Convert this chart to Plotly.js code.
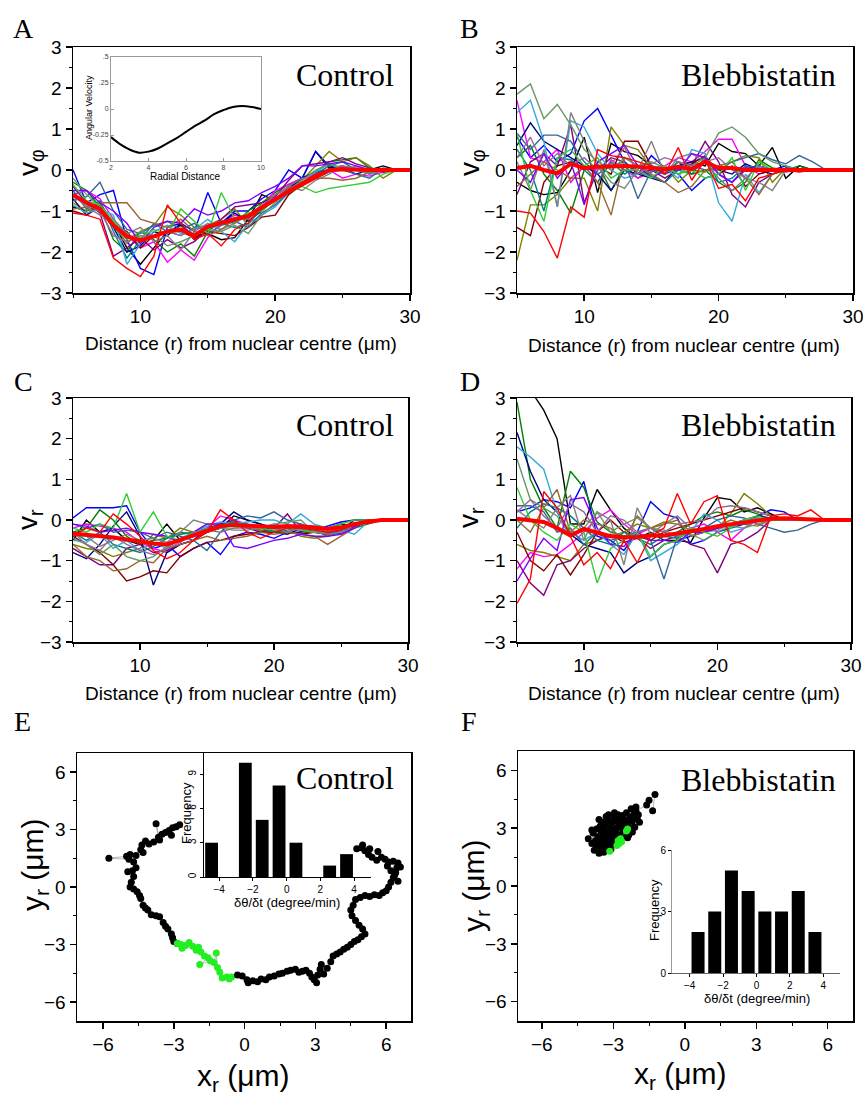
<!DOCTYPE html>
<html><head><meta charset="utf-8">
<script src="https://cdn.plot.ly/plotly-3.0.1.min.js"></script>
<style>body{margin:0;background:#fff}#chart{width:863px;height:1096px}</style>
</head><body><div id="chart"></div>
<script>
// ---------------- DATA ----------------
const radius = [5,6,7,8,9,10,11,12,13,14,15,16,17,18,19,20,21,22,23,24,25,26,27,28,29,30];
const radiusTicks = [10,20,30];
const lineColors = ['#000000','#0000ff','#008000','#ff00ff','#808000','#000080','#800080','#800000','#008080','#33aadd','#336699','#808080','#996633','#669966','#8000ff','#33cc33','#996699','#ff0000'];

// Panel A: v_phi, control
const vphiControl = [
[-0.9,-1.0,-0.85,-1.3,-1.9,-2.3,-1.9,-1.5,-1.35,-1.6,-1.55,-1.7,-1.65,-1.2,-0.6,-0.75,-0.4,-0.2,0.45,0.05,0.1,0.0,0.0,0.1,0.0,0.0],
[0.0,-0.8,-0.6,-0.5,-1.7,-2.4,-2.55,-1.4,-1.3,-1.5,-0.55,-1.3,-1.0,-1.0,-0.7,-0.5,0.0,-0.2,0.45,0.1,0.05,0.0,-0.1,0.0,0.0,0.0],
[-0.3,-0.5,-0.9,-1.7,-2.0,-1.5,-1.7,-2.0,-1.8,-2.1,-1.5,-1.25,-1.3,-1.0,-0.8,-0.55,-0.35,-0.2,-0.05,0.2,0.25,0.3,0.05,-0.05,0.0,0.0],
[-0.6,-0.5,-0.7,-1.2,-1.6,-1.9,-1.75,-2.25,-1.95,-2.2,-1.65,-1.3,-1.1,-1.2,-0.9,-0.5,-0.35,-0.2,-0.1,0.0,-0.2,-0.1,-0.15,-0.05,0.0,0.0],
[-0.8,-1.0,-0.8,-1.3,-1.8,-1.5,-1.35,-0.9,-1.1,-1.4,-1.35,-1.2,-0.95,-1.35,-0.8,-0.6,-0.45,-0.25,0.1,0.45,0.2,0.3,0.1,-0.2,0.0,0.0],
[-0.7,-1.1,-0.9,-1.4,-2.0,-1.85,-1.5,-1.6,-1.3,-1.7,-1.4,-1.3,-1.05,-1.25,-1.0,-0.7,-0.45,-0.2,-0.05,0.0,0.05,-0.1,0.0,0.0,0.0,0.0],
[-0.4,-0.8,-1.05,-2.1,-1.9,-1.65,-1.95,-1.7,-1.9,-1.75,-1.45,-1.2,-0.9,-0.85,-0.8,-0.65,-0.25,0.1,0.15,0.2,0.3,0.15,0.05,-0.05,0.0,0.0],
[-1.0,-1.1,-0.8,-1.35,-1.5,-1.9,-1.6,-1.5,-1.5,-1.65,-1.5,-1.55,-1.6,-1.4,-1.15,-1.1,-0.6,-0.35,-0.15,0.0,0.05,0.0,-0.05,0.0,0.0,0.0],
[-0.5,-0.95,-0.75,-1.5,-2.15,-1.7,-1.3,-1.5,-1.6,-1.4,-1.45,-1.3,-1.4,-1.3,-0.95,-0.75,-0.5,-0.3,-0.1,0.1,0.2,0.0,0.05,0.0,0.0,0.0],
[-0.85,-1.05,-0.95,-1.1,-2.3,-1.8,-1.5,-1.35,-1.55,-1.45,-1.2,-1.5,-1.75,-1.3,-1.1,-0.9,-0.55,-0.25,-0.05,0.15,0.0,0.1,0.0,0.0,0.0,0.0],
[-0.75,-0.65,-0.3,-1.0,-1.45,-1.55,-1.35,-1.25,-1.45,-1.3,-1.55,-1.35,-1.25,-1.4,-1.05,-0.85,-0.55,-0.35,-0.2,-0.05,0.0,-0.1,-0.2,0.05,0.0,0.0],
[-0.6,-0.9,-1.1,-1.2,-1.55,-1.4,-1.75,-1.6,-1.95,-1.5,-1.3,-1.45,-1.3,-1.1,-0.85,-0.7,-0.4,-0.5,-0.25,-0.1,0.1,0.05,0.0,0.0,0.0,0.0],
[-0.95,-0.9,-0.8,-0.8,-0.8,-1.2,-1.3,-1.4,-1.2,-1.5,-1.6,-1.45,-1.2,-1.2,-0.95,-0.75,-0.45,-0.3,-0.2,-0.2,-0.25,-0.2,-0.05,0.0,0.0,0.0],
[-0.2,-0.6,-0.9,-1.4,-1.7,-1.5,-1.6,-1.85,-1.75,-1.6,-1.45,-1.5,-1.35,-1.55,-1.1,-0.8,-0.5,-0.25,0.0,0.15,0.05,0.0,-0.1,0.0,0.0,0.0],
[-0.5,-0.5,-0.8,-1.0,-1.3,-1.8,-1.4,-1.25,-1.3,-0.95,-1.1,-1.0,-0.8,-0.75,-0.55,-0.4,-0.2,0.1,0.1,0.15,0.2,0.1,0.0,0.0,0.0,0.0],
[-0.35,-0.75,-0.85,-1.25,-1.6,-1.65,-1.45,-1.55,-0.95,-1.25,-1.55,-0.55,-1.2,-1.05,-1.0,-0.7,-0.55,-0.4,-0.55,-0.45,-0.4,-0.35,-0.3,-0.1,0.0,0.0],
[-0.65,-0.85,-1.0,-1.6,-1.75,-1.6,-1.65,-1.5,-1.6,-1.45,-1.35,-1.25,-1.2,-1.15,-0.9,-0.6,-0.4,-0.2,-0.15,-0.05,0.1,0.0,-0.05,0.0,0.0,0.0],
[-1.05,-1.1,-1.2,-2.15,-2.4,-2.6,-2.1,-0.85,-1.3,-1.7,-1.55,-1.85,-1.45,-1.3,-0.9,-0.7,-0.5,-0.3,-0.1,0.0,0.05,0.0,0.0,0.0,0.0,0.0]
];
const vphiControlMean = [-0.6,-0.8,-0.95,-1.35,-1.62,-1.72,-1.62,-1.5,-1.45,-1.6,-1.38,-1.28,-1.2,-1.12,-0.92,-0.72,-0.52,-0.35,-0.18,0.0,0.02,0.0,0.0,0.0,0.0,0.0];

// Panel B: v_phi, blebbistatin
const vphiBlebb = [
[-0.3,-0.5,-0.6,-0.55,0.0,0.8,-0.55,0.65,0.45,0.35,0.1,0.0,0.1,0.2,0.1,0.65,0.45,0.4,0.1,0.55,-0.2,0.1,0.0,0.0,0.0,0.0],
[0.8,0.3,0.6,0.2,0.4,1.2,1.5,0.85,0.2,-0.1,0.35,0.05,-0.1,-0.5,-0.2,-0.1,-0.3,0.05,0.1,0.0,0.1,0.0,0.0,0.0,0.0,0.0],
[0.3,0.6,-0.1,-0.5,-1.05,0.0,0.15,-0.5,0.1,-0.2,0.05,-0.1,0.2,-0.1,0.0,-0.3,-0.5,-0.3,0.25,0.05,0.0,0.1,0.0,0.0,0.0,0.0],
[1.7,0.3,0.2,0.5,-0.3,0.1,-0.3,0.25,0.0,-0.2,-0.05,0.1,0.3,0.2,0.45,0.75,0.75,0.1,-0.1,0.0,-0.05,0.0,0.0,0.0,0.0,0.0],
[-2.2,-0.85,-0.85,-0.6,-0.2,-0.2,-1.0,1.05,0.6,0.5,0.05,0.1,-0.3,0.0,-0.05,0.1,0.2,0.35,0.3,-0.3,0.05,0.0,0.0,0.0,0.0,0.0],
[0.6,1.15,0.7,0.5,0.3,0.1,-0.1,-0.5,0.0,-0.1,-0.2,-0.3,0.1,0.2,0.3,0.0,-0.1,0.15,0.0,-0.1,0.05,0.0,0.0,0.0,0.0,0.0],
[-0.6,0.2,0.4,0.1,1.1,-0.8,0.0,0.3,0.2,-0.1,0.0,-0.2,0.0,0.1,0.7,0.2,-0.6,-0.9,-0.3,-0.1,0.0,0.0,0.0,0.0,0.0,0.0],
[-1.4,-1.6,-0.3,0.1,0.2,0.0,0.1,-0.1,0.7,0.7,0.1,-0.1,0.05,0.15,0.35,-0.1,0.1,-0.4,-0.1,0.0,0.0,0.0,0.0,0.0,0.0,0.0],
[0.5,0.0,-1.0,0.3,0.25,0.0,-0.3,0.2,-0.1,0.1,-0.15,-0.3,0.0,-0.1,0.3,-0.3,-0.2,0.1,0.05,0.0,0.0,0.0,0.0,0.0,0.0,0.0],
[1.4,1.7,0.7,-0.9,1.2,1.05,0.4,0.0,-0.2,-0.1,0.1,0.05,-0.2,0.5,0.4,-0.8,-1.25,-0.1,-0.55,-0.1,0.0,0.0,0.0,0.0,0.0,0.0],
[0.9,0.5,0.85,0.85,0.7,0.2,-0.1,0.1,0.2,-0.7,0.0,-0.1,0.2,0.1,0.0,0.0,0.2,0.3,0.4,0.25,0.15,0.35,0.2,0.0,0.0,0.0],
[0.2,-0.5,0.5,-0.9,1.4,0.7,0.1,-0.3,-0.45,0.0,0.7,-0.1,0.3,0.4,0.2,-0.2,-0.5,-0.2,-0.3,-0.5,0.0,0.0,0.0,0.0,0.0,0.0],
[-0.4,-0.1,0.2,0.0,-0.2,0.1,-0.3,-1.1,0.3,0.1,-0.1,-0.3,-0.55,-0.4,0.0,0.1,0.2,-0.2,-0.6,-0.1,0.0,0.0,0.0,0.0,0.0,0.0],
[1.85,2.1,1.25,1.6,1.1,0.5,0.2,0.0,0.3,0.1,0.2,0.05,-0.1,0.1,0.3,0.9,1.05,0.8,0.4,0.2,0.1,0.0,0.0,0.0,0.0,0.0],
[0.0,-0.3,0.4,-0.2,0.2,-0.85,0.2,0.4,0.6,0.1,-0.2,0.0,0.0,0.4,0.3,-0.1,-0.3,0.0,0.1,0.0,0.0,0.0,0.0,0.0,0.0,0.0],
[0.9,-0.5,-1.25,0.3,0.5,0.1,0.3,-0.2,0.0,0.0,-0.2,0.1,-0.1,0.0,-0.2,-0.1,0.3,-0.5,0.2,0.0,0.0,0.0,0.0,0.0,0.0,0.0],
[0.3,0.8,0.1,0.4,0.1,0.3,0.0,0.15,0.55,-0.1,0.15,0.3,0.2,0.1,0.2,0.3,0.0,-0.2,0.1,0.0,0.0,0.0,0.0,0.0,0.0,0.0],
[-1.0,-1.05,-1.5,-2.15,-0.9,-1.15,0.5,0.35,0.3,0.2,0.1,-0.1,0.55,-0.25,0.25,-0.45,-0.35,-0.75,-0.2,-0.1,0.0,-0.05,0.0,0.0,0.0,0.0]
];
const vphiBlebbMean = [0.05,0.1,0.0,-0.08,0.15,0.05,0.08,0.1,0.1,0.08,0.05,0.02,0.08,0.02,0.2,0.05,0.05,0.0,0.0,0.0,0.0,0.0,0.0,0.0,0.0,0.0];

// Panel C: v_r, control
const vrControl = [
[-0.5,0.0,-0.3,-0.2,-0.5,-0.6,-0.5,-0.1,-0.5,-0.4,-0.3,-0.2,0.1,0.0,-0.1,-0.2,-0.2,-0.25,-0.3,-0.2,-0.1,-0.15,0.0,0.0,0.0,0.0],
[0.05,0.3,0.3,0.3,0.35,-0.3,-0.7,-0.6,-0.9,-0.7,-0.55,-0.85,-0.4,-0.3,-0.35,-0.45,-0.3,-0.3,-0.25,-0.15,-0.05,0.0,0.0,0.0,0.0,0.0],
[-0.3,-0.2,0.25,0.0,-0.4,-0.6,-0.5,-0.45,-0.35,-0.3,-0.2,-0.1,-0.05,-0.2,-0.25,-0.3,-0.3,-0.35,-0.25,-0.4,-0.3,-0.2,-0.1,0.0,0.0,0.0],
[-0.2,-0.1,-0.15,-0.2,-0.3,-0.55,-0.7,-0.8,-0.6,-0.5,-0.2,0.1,0.0,-0.1,-0.3,-0.25,-0.2,-0.1,-0.3,-0.35,-0.2,-0.1,0.0,0.0,0.0,0.0],
[-0.6,-0.7,-0.75,-0.9,-0.8,-0.7,-0.35,-0.45,-0.2,-0.3,-0.3,-0.2,-0.1,-0.2,-0.25,-0.3,-0.2,-0.4,-0.45,-0.4,-0.2,-0.1,0.0,0.0,0.0,0.0],
[-0.8,-0.95,-0.6,-0.15,0.2,-0.4,-1.6,-0.8,-0.6,-0.5,-0.3,-0.1,0.2,0.0,-0.1,-0.3,-0.35,-0.2,-0.3,-0.35,-0.25,0.0,0.0,0.0,0.0,0.0],
[-0.7,-0.9,-1.1,-1.1,-0.7,-0.6,-0.8,-0.75,-0.6,-0.5,-0.2,-0.1,0.0,-0.2,-0.3,-0.2,0.15,-0.3,-0.2,-0.2,-0.35,-0.15,0.0,0.0,0.0,0.0],
[-0.4,-0.6,-0.8,-1.1,-1.5,-1.4,-1.25,-1.3,-0.9,-0.7,-0.55,-0.5,-0.4,-0.35,-0.3,-0.3,-0.3,-0.35,-0.3,-0.3,-0.2,-0.1,0.0,0.0,0.0,0.0],
[-0.3,-0.5,-0.3,-0.6,-0.7,-0.8,-0.65,-0.45,-0.3,-0.35,-0.2,-0.15,-0.05,-0.1,-0.2,-0.3,-0.25,-0.2,-0.3,-0.3,-0.3,-0.1,0.0,0.0,0.0,0.0],
[-0.5,-0.55,-0.35,-0.7,-0.5,-0.75,-0.55,-0.7,-0.45,-0.3,-0.15,-0.05,-0.1,-0.05,0.0,0.0,-0.1,0.15,-0.1,-0.2,-0.25,-0.35,-0.05,0.0,0.0,0.0],
[-0.1,-0.2,-0.1,-0.3,-0.25,-0.3,-0.45,-0.3,-0.4,-0.5,-0.75,-0.3,0.0,0.1,0.05,0.2,0.0,-0.1,-0.2,-0.3,-0.25,-0.1,0.0,0.0,0.0,0.0],
[-0.35,-0.4,-0.65,-0.5,-0.35,-0.5,-0.45,-0.55,-0.3,0.0,-0.1,-0.2,-0.25,-0.25,-0.2,-0.1,-0.2,-0.25,-0.3,-0.35,-0.3,-0.2,0.0,0.0,0.0,0.0],
[-0.6,-0.9,-1.0,-1.25,-1.2,-1.0,-1.05,-0.7,-0.6,-0.5,-0.4,-0.5,-0.45,-0.4,-0.3,-0.35,-0.3,-0.35,-0.4,-0.6,-0.4,-0.2,0.0,0.0,0.0,0.0],
[-0.45,-0.6,-0.85,-0.6,-0.9,-1.0,-0.9,-0.65,-0.5,-0.35,-0.2,-0.2,-0.1,-0.15,-0.2,-0.1,-0.05,0.0,-0.3,-0.3,-0.2,-0.1,0.0,0.0,0.0,0.0],
[-0.1,-0.15,-0.3,-0.25,-0.2,-0.3,-0.35,-0.4,-0.55,-0.3,-0.1,-0.1,-0.65,-0.7,-0.6,-0.5,-0.45,-0.35,-0.4,-0.4,-0.35,-0.2,0.0,0.0,0.0,0.0],
[-0.2,-0.3,-0.1,-0.2,0.65,-0.3,0.2,-0.4,-0.5,-0.3,-0.25,-0.2,-0.2,-0.15,-0.2,-0.25,-0.2,-0.25,-0.3,-0.2,-0.1,0.0,0.0,0.0,0.0,0.0],
[-0.3,-0.6,-0.75,-0.4,-0.6,-0.75,-0.85,-0.7,-0.55,-0.3,-0.25,-0.3,-0.2,-0.2,-0.15,-0.2,-0.3,-0.2,-0.25,-0.3,-0.2,-0.1,0.0,0.0,0.0,0.0],
[-0.4,-0.2,-0.3,0.15,-0.1,-0.4,-0.75,-0.95,-0.8,-0.5,-0.3,0.25,0.0,-0.3,-0.45,-0.3,-0.2,-0.2,-0.25,-0.3,-0.25,-0.1,0.0,0.0,0.0,0.0]
];
const vrControlMean = [-0.33,-0.36,-0.38,-0.43,-0.48,-0.53,-0.58,-0.6,-0.5,-0.38,-0.27,-0.15,-0.12,-0.14,-0.17,-0.17,-0.15,-0.16,-0.18,-0.22,-0.18,-0.1,-0.05,0.0,0.0,0.0];

// Panel D: v_r, blebbistatin
const vrBlebb = [
[3.4,3.2,2.7,2.0,-0.1,-0.1,0.75,0.25,-0.2,-0.45,-0.3,-0.5,-0.5,-0.55,0.05,0.55,0.5,0.2,0.3,0.15,0.0,0.0,0.0,0.0,0.0,0.0],
[0.2,0.3,0.5,0.45,0.3,0.95,-0.4,-0.5,-0.75,-0.3,0.45,0.15,0.05,-0.6,-0.5,-0.3,-0.2,-0.1,0.1,0.25,0.2,0.0,0.0,0.0,0.0,0.0],
[2.9,1.0,0.3,-0.2,1.2,0.8,-0.05,-0.3,-0.4,-0.3,-0.2,-0.4,-0.3,-0.1,0.1,0.2,0.1,0.25,0.15,0.0,0.0,0.0,0.0,0.0,0.0,0.0],
[-1.2,-0.8,-0.9,-0.85,-0.6,-0.3,0.05,0.25,-0.1,-0.35,-0.2,-0.3,-0.4,-0.2,-0.1,-0.3,-0.5,-0.2,0.0,0.0,0.0,0.0,0.0,0.0,0.0,0.0],
[-0.6,-0.75,-0.8,-0.9,-1.0,-0.6,-0.5,-0.4,-0.3,-0.1,-0.2,-0.05,-0.1,-0.25,-0.3,-0.2,0.15,0.65,0.4,0.1,0.0,0.0,0.0,0.0,0.0,0.0],
[2.15,1.2,0.5,0.2,-0.35,-0.6,-0.7,-0.8,-1.3,-1.05,-0.9,-0.6,-0.5,-0.4,-0.3,-0.2,-0.1,0.0,0.1,0.05,0.0,0.0,0.0,0.0,0.0,0.0],
[-1.0,-1.55,-1.85,-1.1,-1.0,-0.7,-0.5,-0.35,-0.55,-0.45,-0.7,-0.5,-0.4,-0.6,-0.7,-1.3,-0.6,-0.5,-0.3,0.0,0.0,0.0,0.0,0.0,0.0,0.0],
[-0.3,-1.0,-1.25,-0.85,-1.35,-0.85,-0.3,0.0,-0.3,-0.4,-0.5,-0.3,-0.2,-0.1,0.0,0.1,0.2,0.3,0.2,0.1,0.0,0.0,0.0,0.0,0.0,0.0],
[-0.2,0.2,0.4,0.3,0.1,-0.2,-0.5,-0.6,-0.3,-0.45,-0.6,-0.4,-0.45,-0.3,-0.25,-0.2,-0.1,-0.05,0.0,0.0,0.0,0.0,0.0,0.0,0.0,0.0],
[1.8,1.55,1.25,0.2,-0.3,-0.5,-0.3,-0.6,-0.85,-0.3,-1.0,-0.8,-0.6,-0.3,0.15,0.0,-0.3,-0.2,0.05,0.0,0.0,0.0,0.0,0.0,0.0,0.0],
[0.35,0.35,0.2,-0.3,-0.2,-0.6,-0.3,-0.5,-0.4,-0.3,-0.5,-1.45,-0.4,-0.3,-0.2,0.0,0.1,0.05,-0.1,-0.2,-0.3,-0.25,-0.1,0.0,0.0,0.0],
[0.25,0.0,-0.2,0.3,0.6,-0.5,0.2,0.0,-1.1,0.3,-0.35,-0.1,0.1,-0.2,-0.3,-0.25,-0.1,0.0,0.05,0.0,0.0,0.0,0.0,0.0,0.0,0.0],
[0.0,-0.3,0.3,0.75,-0.3,0.0,-0.1,-0.2,-0.5,0.1,-0.2,-0.1,0.0,-0.4,-0.3,-0.15,0.0,-0.1,-0.15,0.0,0.0,0.0,0.0,0.0,0.0,0.0],
[1.5,0.5,0.3,0.1,-0.4,-0.2,0.2,-0.3,-0.1,0.05,-0.2,-0.25,-0.4,-0.35,-0.5,-0.3,-0.15,-0.2,-0.1,0.0,0.0,0.0,0.0,0.0,0.0,0.0],
[-1.5,-0.95,-0.45,-0.75,0.5,0.55,-0.2,-0.6,-0.65,-0.3,-0.5,-0.5,-0.55,-0.3,-0.3,-0.2,-0.1,-0.1,0.0,0.0,0.0,0.0,0.0,0.0,0.0,0.0],
[0.8,0.0,-0.3,-0.5,-0.1,-0.3,-1.55,-0.7,-0.5,-0.3,-0.9,-0.6,-0.5,-0.2,-0.3,-0.4,-0.2,0.0,0.1,0.0,0.0,0.0,0.0,0.0,0.0,0.0],
[0.2,0.5,0.1,-0.2,0.4,0.2,-0.3,0.1,0.0,-0.3,-0.2,-0.3,-0.1,-0.05,0.0,0.3,0.35,0.3,0.2,0.1,0.0,0.0,0.0,0.0,0.0,0.0],
[-2.05,-1.45,0.7,0.3,-0.4,-1.1,-0.8,-1.2,-0.5,-1.05,-0.4,-0.2,0.65,-0.1,0.45,0.6,-0.5,-0.6,-0.8,0.1,0.15,0.1,0.25,0.0,0.0,0.0]
];
const vrBlebbMean = [0.03,0.0,-0.05,-0.2,-0.38,-0.22,-0.3,-0.4,-0.43,-0.42,-0.38,-0.38,-0.33,-0.28,-0.22,-0.15,-0.1,-0.05,0.0,0.03,0.04,0.02,0.0,0.0,0.0,0.0];

// Inset A: model angular velocity
const insetRadial = [2,2.5,3,3.5,4,4.5,5,5.5,6,6.5,7,7.5,8,8.5,9,9.5,10];
const insetAngVel = [-0.27,-0.34,-0.39,-0.42,-0.41,-0.38,-0.33,-0.28,-0.22,-0.16,-0.11,-0.05,-0.01,0.02,0.03,0.02,0.0];
const insetAngTicks = [-0.5,-0.25,0,0.25,0.5];
const insetAngLabels = ['-0.5','-0.25','0','.25','.5'];

// Panel E: control trajectory (black before, green, black after)
const ctrlPathAx = [-2.75,-2.9,-3.05,-3.2,-3.1,-3.35,-3.5,-3.65,-3.75,-3.6,-3.85,-4.05,-4.2,-4.35,-4.4,-4.3,-4.6,-4.85,-5.0,-5.75,-4.9,-4.7,-4.6,-4.75,-4.95,-4.7,-4.8,-4.85,-4.7,-4.55,-4.45,-4.4,-4.3,-4.2,-4.1,-3.95,-3.75,-3.6,-3.45,-3.35,-3.25,-3.1,-3.05,-3.0,-2.85];
const ctrlPathAy = [3.25,3.15,3.1,2.95,2.7,2.85,2.75,2.6,3.3,2.45,2.35,2.25,2.4,2.2,1.95,1.8,1.65,1.7,1.6,1.5,1.45,1.3,1.0,0.85,0.8,0.55,0.25,0.0,-0.1,-0.25,-0.45,-0.6,-0.95,-1.1,-1.2,-1.45,-1.5,-1.55,-1.85,-2.05,-2.2,-2.45,-2.65,-2.85,-2.95];
const ctrlGreenX = [-2.85,-2.7,-2.65,-2.5,-2.35,-2.2,-2.05,-1.95,-1.85,-1.7,-1.55,-1.9,-1.45,-1.3,-1.2,-1.15,-1.05,-0.95,-0.75,-0.55,-0.65];
const ctrlGreenY = [-2.95,-3.0,-3.2,-3.05,-2.9,-3.1,-3.3,-3.15,-3.4,-3.6,-3.7,-4.05,-3.85,-3.95,-3.45,-4.2,-4.45,-4.75,-4.7,-4.7,-4.8];
const ctrlPathBx = [-0.3,-0.1,0.1,0.15,0.35,0.55,0.7,0.9,1.05,1.25,1.45,1.6,1.8,1.95,2.15,2.3,2.45,2.6,2.75,2.85,2.95,3.05,3.1,3.2,3.25,3.35,3.5,3.65,3.75,3.9,4.05,4.2,4.35,4.5,4.65,4.8,4.95,5.1,5.0,4.85,4.7,4.55,4.5,4.6,4.7,4.9,5.1,5.3,5.5,5.7,5.85,6.0,6.1,6.2,6.3,6.4,6.45,6.6,6.5,6.3,6.1,5.95,5.8,5.6,5.4,5.25,5.1,4.95,4.75,5.0,5.3,5.65,6.2,6.35,6.05,6.5];
const ctrlPathBy = [-4.6,-4.65,-4.85,-5.0,-4.9,-4.95,-4.8,-4.85,-4.7,-4.65,-4.55,-4.5,-4.4,-4.35,-4.3,-4.45,-4.4,-4.35,-4.5,-4.7,-4.85,-5.0,-4.6,-4.3,-4.05,-4.55,-4.25,-3.9,-3.6,-3.5,-3.4,-3.25,-3.15,-3.0,-2.85,-2.75,-2.6,-2.45,-2.2,-2.0,-1.75,-1.5,-1.2,-0.95,-0.65,-0.55,-0.45,-0.5,-0.4,-0.45,-0.3,-0.2,0.0,0.25,0.5,0.75,1.0,1.05,1.25,1.35,1.3,1.45,1.55,1.4,1.55,1.7,1.9,2.05,2.0,2.2,2.0,1.85,0.85,0.6,1.1,0.3];

// Panel F: blebbistatin trajectory
const blebPathX = [-4.05,-3.9,-3.85,-3.8,-3.75,-3.7,-3.7,-3.65,-3.6,-3.6,-3.55,-3.5,-3.5,-3.45,-3.45,-3.4,-3.4,-3.35,-3.35,-3.3,-3.3,-3.25,-3.25,-3.2,-3.2,-3.15,-3.15,-3.1,-3.1,-3.05,-3.05,-3.0,-3.0,-2.95,-2.95,-2.9,-2.9,-2.85,-2.85,-2.8,-2.8,-2.75,-2.7,-2.7,-2.65,-2.6,-2.6,-2.55,-2.5,-2.5,-2.45,-2.4,-2.35,-2.3,-2.3,-2.25,-2.2,-2.15,-2.1,-2.05,-2.0,-1.95,-1.9,-2.2,-2.4,-3.6,-3.3,-3.9,-3.2,-2.95,-3.5,-2.05,-1.6,-1.5,-1.25,-1.35];
const blebPathY = [2.45,2.2,2.75,1.85,2.35,2.05,2.95,2.55,1.7,2.3,3.1,2.0,2.7,2.35,3.3,1.75,2.9,2.15,2.55,1.95,3.15,2.4,2.8,2.05,3.4,2.6,2.25,1.9,3.0,2.45,3.3,2.15,2.75,2.5,3.55,2.2,3.0,2.7,3.35,2.55,3.7,3.05,2.6,3.45,3.2,2.8,3.65,3.0,2.6,3.4,3.8,3.2,2.65,3.55,3.0,4.0,3.35,3.7,3.05,4.1,3.5,3.7,3.3,2.8,2.5,3.45,3.6,2.9,3.7,3.8,2.85,3.9,4.2,4.45,4.75,3.9];
const blebGreenX = [-3.15,-2.85,-2.75,-2.7,-2.65,-2.8,-2.45,-2.4];
const blebGreenY = [1.8,2.1,2.2,2.45,2.3,2.35,2.85,2.95];

// Histograms of angular speed
const histCtrlBins = [-4.45,-3.45,-2.45,-1.45,-0.45,0.55,1.55,2.55,3.55];
const histCtrlFreq = [3,0,10,5,8,3,0,1,2];
const histBlebBins = [-3.5,-2.5,-1.5,-0.5,0.5,1.5,2.5,3.5];
const histBlebFreq = [2,3,5,4,3,3,4,2];

// ---------------- PLOT ----------------
const W = 863, H = 1096;
const SANS = 'Liberation Sans, Arial, sans-serif';
const SERIF = 'Liberation Serif, Times New Roman, serif';
const px = (x0, x1) => [x0 / W, x1 / W];
const py = (top, bottom) => [1 - bottom / H, 1 - top / H];

const traces = [];
function spaghetti(lines, mean, xa, ya) {
  lines.forEach((ys, i) => traces.push({
    type: 'scatter', mode: 'lines', x: radius, y: ys, xaxis: xa, yaxis: ya,
    line: {color: lineColors[i % lineColors.length], width: 1.4}, hoverinfo: 'skip'
  }));
  traces.push({type: 'scatter', mode: 'lines', x: radius, y: mean, xaxis: xa, yaxis: ya,
    line: {color: '#ff0000', width: 4}, hoverinfo: 'skip'});
}
spaghetti(vphiControl, vphiControlMean, 'x', 'y');
spaghetti(vphiBlebb, vphiBlebbMean, 'x2', 'y2');
spaghetti(vrControl, vrControlMean, 'x3', 'y3');
spaghetti(vrBlebb, vrBlebbMean, 'x4', 'y4');

traces.push({type: 'scatter', mode: 'lines', x: insetRadial, y: insetAngVel, xaxis: 'x7', yaxis: 'y7',
  line: {color: '#000', width: 2, shape: 'spline'}});

function path(x, y, color, xa, ya) {
  traces.push({type: 'scatter', mode: 'lines+markers', x: x, y: y, xaxis: xa, yaxis: ya,
    line: {color: '#888', width: 0.6}, marker: {color: color, size: 7}});
}
path(ctrlPathAx, ctrlPathAy, '#000', 'x5', 'y5');
path(ctrlGreenX, ctrlGreenY, '#22ee22', 'x5', 'y5');
path(ctrlPathBx, ctrlPathBy, '#000', 'x5', 'y5');
path(blebPathX, blebPathY, '#000', 'x6', 'y6');
path(blebGreenX, blebGreenY, '#22ee22', 'x6', 'y6');

traces.push({type: 'bar', x: histCtrlBins, y: histCtrlFreq, width: 0.76, xaxis: 'x8', yaxis: 'y8',
  marker: {color: '#000'}});
traces.push({type: 'bar', x: histBlebBins, y: histBlebFreq, width: 0.78, xaxis: 'x9', yaxis: 'y9',
  marker: {color: '#000'}});

function mainAxis(domain, anchor, range, tickvals, minorTick0, minor) {
  return {domain: domain, anchor: anchor, range: range, showline: true, mirror: true,
    linecolor: '#000', linewidth: 1.5, ticks: 'outside', ticklen: 6, tickwidth: 1.5, tickcolor: '#000',
    tickmode: 'array', tickvals: tickvals, showgrid: false, zeroline: false, ticklabeloverflow: 'allow',
    minor: {ticks: 'outside', ticklen: 3, tickwidth: 1, tickcolor: '#000', tick0: minorTick0, dtick: minor, showgrid: false},
    tickfont: {family: SANS, size: 19, color: '#000'}, fixedrange: true};
}
function insetAxis(domain, anchor, range, extra) {
  return Object.assign({domain: domain, anchor: anchor, range: range, showline: true, mirror: false,
    linecolor: '#000', linewidth: 1, ticks: 'outside', ticklen: 3, tickwidth: 1, tickcolor: '#000',
    showgrid: false, zeroline: false, tickfont: {family: SANS, size: 9, color: '#000'}, fixedrange: true}, extra || {});
}
const vTicks = [-3,-2,-1,0,1,2,3];
const posTicks = [-6,-3,0,3,6];

const layout = {
  width: W, height: H, margin: {l: 0, r: 0, t: 0, b: 0}, showlegend: false,
  paper_bgcolor: '#fff', plot_bgcolor: 'rgba(0,0,0,0)',
  xaxis:  mainAxis(px(73, 410), 'y',  [5, 30], radiusTicks, 0, 5),
  yaxis:  mainAxis(py(47, 293), 'x',  [-3, 3], vTicks, 0, 0.5),
  xaxis2: mainAxis(px(517, 853), 'y2', [5, 30], radiusTicks, 0, 5),
  yaxis2: mainAxis(py(47, 293), 'x2', [-3, 3], vTicks, 0, 0.5),
  xaxis3: mainAxis(px(73, 408), 'y3', [5, 30], radiusTicks, 0, 5),
  yaxis3: mainAxis(py(398, 642), 'x3', [-3, 3], vTicks, 0, 0.5),
  xaxis4: mainAxis(px(517, 851), 'y4', [5, 30], radiusTicks, 0, 5),
  yaxis4: mainAxis(py(398, 642), 'x4', [-3, 3], vTicks, 0, 0.5),
  xaxis5: mainAxis(px(77, 411), 'y5', [-7.1, 7.05], posTicks, 0, 1.5),
  yaxis5: mainAxis(py(753, 1021), 'x5', [-7, 7], posTicks, 0, 1.5),
  xaxis6: mainAxis(px(518, 853), 'y6', [-7, 7.06], posTicks, 0, 1.5),
  yaxis6: mainAxis(py(751, 1021), 'x6', [-7, 7], posTicks, 0, 1.5),
  xaxis7: insetAxis(px(111, 261), 'y7', [2, 10], {mirror: true, linecolor: '#999', ticks: 'inside', tickcolor: '#999',
      tickvals: [2, 4, 6, 8, 10], tickfont: {family: SANS, size: 7, color: '#444'}}),
  yaxis7: insetAxis(py(57, 161), 'x7', [-0.5, 0.5], {mirror: true, linecolor: '#999', ticks: 'inside', tickcolor: '#999',
      tickvals: insetAngTicks, ticktext: insetAngLabels,
      tickfont: {family: SANS, size: 7, color: '#444'}}),
  xaxis8: insetAxis(px(204, 371), 'y8', [-4.9, 5.0], {tickvals: [-4, -2, 0, 2, 4], tickfont: {family: SANS, size: 10, color: '#000'}}),
  yaxis8: insetAxis(py(753, 877), 'x8', [0, 10.85], {tickvals: [0, 3, 6, 9], tickangle: -90, tickfont: {family: SANS, size: 10, color: '#000'}}),
  xaxis9: insetAxis(px(672, 840), 'y9', [-5.06, 5.0], {linecolor: '#666', tickvals: [-4, -2, 0, 2, 4], tickfont: {family: SANS, size: 10, color: '#000'}}),
  yaxis9: insetAxis(py(850, 973), 'x9', [0, 6], {linecolor: '#999', tickvals: [0, 3, 6], tickfont: {family: SANS, size: 10, color: '#000'}}),
  annotations: []
};

function note(text, x, y, size, family, angle) {
  layout.annotations.push({text: text, x: x / W, y: 1 - y / H, xref: 'paper', yref: 'paper',
    xanchor: 'center', yanchor: 'middle', showarrow: false, textangle: angle || 0,
    font: {family: family, size: size, color: '#000'}});
}
// panel letters
[['A', 23, 28], ['B', 469, 28], ['C', 23, 382], ['D', 470, 382], ['E', 22, 722], ['F', 469, 722]]
  .forEach(l => note(l[0], l[1], l[2], 28, SERIF));
// condition labels
[['Control', 345, 75], ['Blebbistatin', 758, 75], ['Control', 345, 425], ['Blebbistatin', 758, 425],
 ['Control', 345, 778], ['Blebbistatin', 758, 780]].forEach(l => note(l[0], l[1], l[2], 32, SERIF));
// x titles
const distTitle = 'Distance (r) from nuclear centre (\u03bcm)';
[[241, 344], [684, 345], [241, 693], [684, 693]].forEach(p => note(distTitle, p[0], p[1], 19, SANS));
// y titles
note('v<sub>\u03c6</sub>', 31, 163, 28, SANS, -90);
note('v<sub>\u03c6</sub>', 472, 163, 28, SANS, -90);
note('v<sub>r</sub>', 29, 520, 28, SANS, -90);
note('v<sub>r</sub>', 470, 518, 28, SANS, -90);
note('y<sub>r</sub> (\u03bcm)', 34, 865, 30, SANS, -90);
note('y<sub>r</sub> (\u03bcm)', 475, 885, 30, SANS, -90);
note('x<sub>r</sub> (\u03bcm)', 243, 1077, 30, SANS);
note('x<sub>r</sub> (\u03bcm)', 680, 1075, 30, SANS);
// inset titles
note('Angular Velocity', 89, 108, 9, SANS, -90);
note('Radial Distance', 185, 176, 10, SANS);
note('Frequency', 186, 813, 13, SANS, -90);
note('\u03b4\u03b8/\u03b4t (degree/min)', 287, 902, 13, SANS);
note('Frequency', 654, 910, 13, SANS, -90);
note('\u03b4\u03b8/\u03b4t (degree/min)', 757, 998, 13, SANS);

Plotly.newPlot('chart', traces, layout, {staticPlot: true});
</script></body></html>
